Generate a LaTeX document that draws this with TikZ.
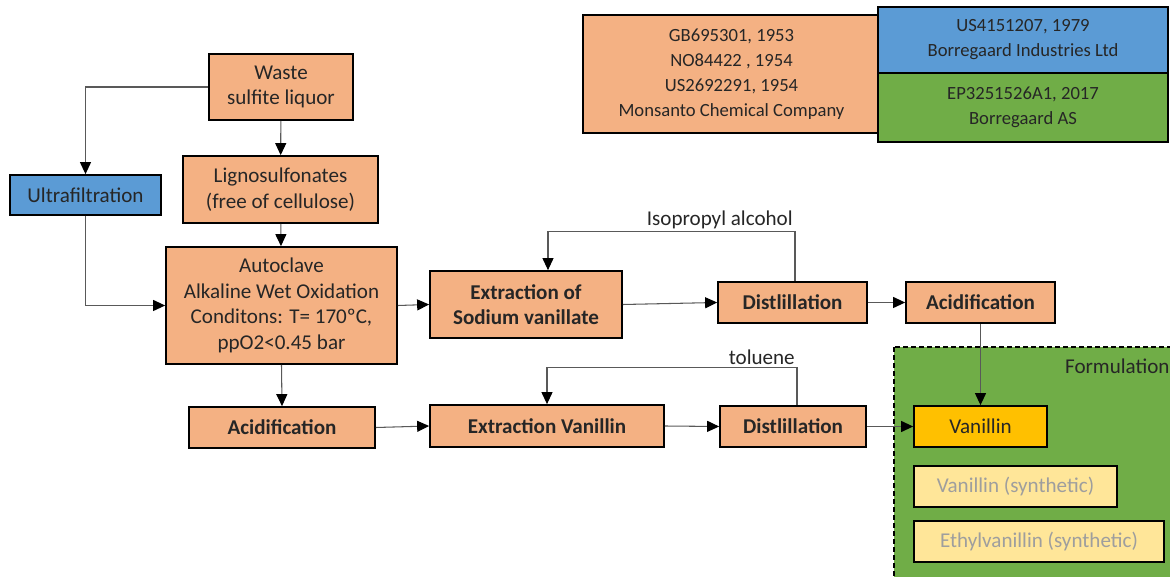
\documentclass[tikz,border=0pt]{standalone}
\usepackage{fontspec}
\setmainfont{Carlito}
\usetikzlibrary{arrows.meta}

\definecolor{salmon}{HTML}{F4B183}
\definecolor{steel}{HTML}{5B9BD5}
\definecolor{leaf}{HTML}{70AD47}
\definecolor{amber}{HTML}{FFC000}
\definecolor{cream}{HTML}{FFE699}
\definecolor{ink}{HTML}{262626}

\tikzset{
  box/.style={draw=black, line width=1pt, fill=salmon, text=ink, align=center,
    inner sep=0pt, font=\fontsize{12}{14.5}\selectfont},
  boldbox/.style={box, font=\fontsize{12}{14.5}\selectfont\bfseries},
  patent/.style={box, font=\fontsize{10.6}{14.2}\selectfont},
  flow/.style={draw=black!65, line width=0.6pt,
    -{Triangle[length=0.24cm,width=0.22cm,color=black]}},
  tag/.style={text=ink, inner sep=1pt, font=\fontsize{12}{14.5}\selectfont},
}

\begin{document}
\begin{tikzpicture}[x=0.02cm,y=-0.02cm]
\useasboundingbox (0,0) rectangle (1170,577);

% patents
\node[patent, minimum width=5.94cm, minimum height=2.36cm] (monsanto) at (731.5,74)
  {GB695301, 1953\\NO84422 , 1954\\US2692291, 1954\\Monsanto Chemical Company};
\node[patent, fill=steel, minimum width=5.8cm, minimum height=1.32cm] (borind) at (1023,40)
  {US4151207, 1979\\Borregaard Industries Ltd};
\node[patent, fill=leaf, minimum width=5.8cm, minimum height=1.38cm] (boras) at (1023,107.5)
  {EP3251526A1, 2017\\Borregaard AS};

% formulation area
\draw[fill=leaf, line width=1pt, dash pattern=on 0.1cm off 0.06cm] (894,347) rectangle (1185,595);
\node[tag, anchor=west] (formlabel) at (1063,366) {Formulation};

% process boxes
\node[box, minimum width=2.88cm, minimum height=1.32cm] (waste) at (281,87) {Waste\\sulfite liquor};
\node[box, minimum width=3.9cm, minimum height=1.34cm] (ligno) at (280.5,189.5) {Lignosulfonates\\(free of cellulose)};
\node[box, fill=steel, minimum width=3.02cm, minimum height=0.8cm] (ultra) at (85.5,195) {Ultrafiltration};
\node[box, minimum width=4.62cm, minimum height=2.34cm] (autoclave) at (281.5,305.5)
  {Autoclave\\Alkaline Wet Oxidation\\Conditons: T= 170ºC,\\ppO2<0.45 bar};
\node[boldbox, minimum width=3.84cm, minimum height=1.34cm] (extsod) at (526,304.5) {Extraction of\\Sodium vanillate};
\node[boldbox, minimum width=2.98cm, minimum height=0.82cm] (distone) at (792.5,302.5) {Distlillation};
\node[boldbox, minimum width=2.98cm, minimum height=0.82cm] (acidone) at (980.5,302.5) {Acidification};
\node[boldbox, minimum width=3.72cm, minimum height=0.82cm] (acidtwo) at (282,427.5) {Acidification};
\node[boldbox, minimum width=4.68cm, minimum height=0.84cm] (extvan) at (547,426) {Extraction Vanillin};
\node[boldbox, minimum width=2.92cm, minimum height=0.82cm] (disttwo) at (793,426.5) {Distlillation};
\node[box, fill=amber, minimum width=2.66cm, minimum height=0.82cm] (vanillin) at (980.5,426.5) {Vanillin};
\node[box, fill=cream, text=black!38, minimum width=4.06cm, minimum height=0.82cm] (vansyn) at (1015.5,486.5) {Vanillin (synthetic)};
\node[box, fill=cream, text=black!38, minimum width=5cm, minimum height=0.82cm] (ethyl) at (1039,541.5) {Ethylvanillin (synthetic)};

% connectors
\draw[flow] (waste) -- (ligno);
\draw[flow] (waste.west) -| (ultra.north);
\draw[flow] (ultra.south) |- (autoclave.west);
\draw[flow] (ligno) -- (autoclave);
\draw[flow] (autoclave.east) -- (extsod.west);
\draw[flow] (extsod.east) -- (distone.west);
\draw[flow] (distone.east) -- (acidone.west);
\draw[flow] ([xshift=0.05cm]distone.north) -- ++(0,-50)
  node[tag, anchor=south east] (ipa) {Isopropyl alcohol} -| ([xshift=0.44cm]extsod.north);
\draw[flow] (acidone.south) -- (vanillin.north);
\draw[flow] (autoclave.south) -- (acidtwo.north);
\draw[flow] (acidtwo.east) -- (extvan.west);
\draw[flow] (extvan.east) -- (disttwo.west);
\draw[flow] (disttwo.east) -- (vanillin.west);
\draw[flow] ([xshift=0.08cm]disttwo.north) -- ++(0,-38)
  node[tag, anchor=south east] (tol) {toluene} -| (extvan.north);
\end{tikzpicture}
\end{document}
